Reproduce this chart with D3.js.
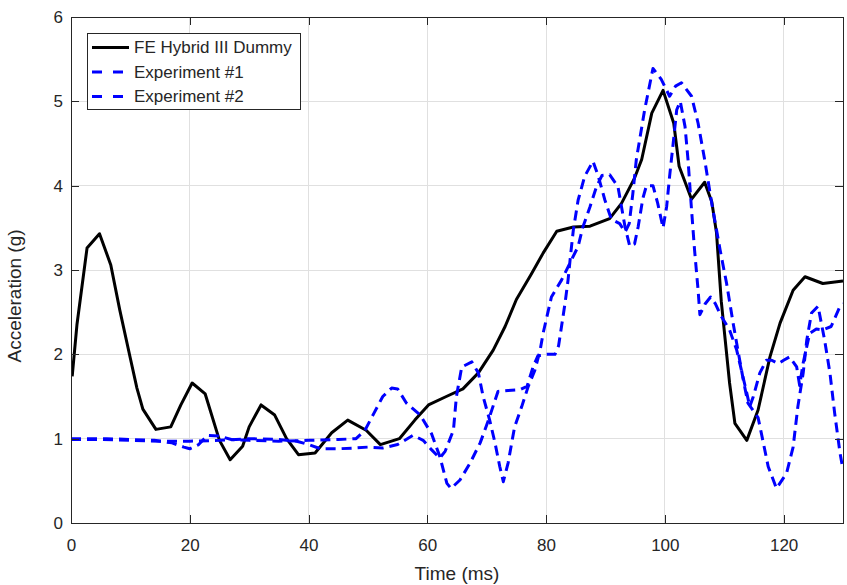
<!DOCTYPE html>
<html>
<head>
<meta charset="utf-8">
<script src="https://cdn.jsdelivr.net/npm/d3@7"></script>
<style>
  body { margin: 0; background: #fff; }
  text { font-family: 'Liberation Sans', Arial, sans-serif; fill: #262626; }
</style>
</head>
<body>
<div id="chart"></div>
<script>
// FE model (black solid)
const feTime = [0.2, 1.0, 2.7, 4.8, 6.7, 8.2, 10, 11.1, 12.1, 14.3,
  16.8, 18.5, 20.4, 22.6, 25, 26.8, 28.9, 30, 32, 34.3,
  36.3, 38.3, 41.1, 43.9, 46.6, 49.7, 52.1, 55.3, 57.9, 60.2,
  63.2, 66.0, 68.6, 71.1, 73.1, 75.0, 77.5, 79.5, 81.8, 84.6,
  87.4, 90.7, 92.7, 94.9, 96.1, 97.8, 99.7, 101.5, 102.4, 104.5,
  106.7, 107.9, 108.7, 109.5, 110.9, 111.8, 113.8, 115.7, 117.7, 119.4,
  121.6, 123.6, 126.6, 130]
const feAccel = [1.74, 2.35, 3.26, 3.43, 3.06, 2.53, 1.95, 1.6, 1.35, 1.11,
  1.14, 1.4, 1.66, 1.53, 0.98, 0.75, 0.91, 1.14, 1.40, 1.28,
  1.0, 0.81, 0.83, 1.07, 1.22, 1.10, 0.93, 1.0, 1.22, 1.40,
  1.50, 1.59, 1.78, 2.05, 2.33, 2.65, 2.95, 3.2, 3.46, 3.51,
  3.52, 3.61, 3.79, 4.09, 4.31, 4.86, 5.13, 4.74, 4.23, 3.84,
  4.04, 3.81, 3.44, 2.63, 1.66, 1.18, 0.98, 1.34, 1.97, 2.37,
  2.76, 2.92, 2.84, 2.87]

// Experiment #1 (blue dashed)
const exp1Time = [0, 3, 6, 10, 14, 17, 19, 20, 21.5, 23,
  25, 27, 30, 35, 40, 45, 48, 49.5, 51, 52.5,
  54, 55, 56.5, 58.8, 60.7, 62.1, 63.3, 64, 65.5, 67.2,
  68.9, 70.3, 71.9, 73.6, 75.6, 76.8, 77.8, 78.6, 80, 81.5,
  82.1, 82.6, 83.2, 83.7, 84.1, 84.6, 85.4, 86.5, 87.9, 88.8,
  89.9, 91, 92.4, 93.3, 94.0, 94.6, 95.2, 96.6, 98, 99.4,
  100.8, 101.8, 102.8, 104.5, 105.6, 106.7, 107.9, 109.3, 110.4, 111.5,
  112.3, 113.2, 114, 115.7, 116.5, 117.4, 118.8, 120.5, 121.6, 122.4,
  123.3, 123.9, 124.7, 125.8, 126.9, 127.8, 128.6, 129.5, 130]
const exp1Accel = [1.0, 1.0, 1.0, 0.99, 0.98, 0.95, 0.9, 0.88, 0.93, 1.04,
  1.03, 0.99, 0.98, 0.97, 0.98, 0.99, 1.0, 1.1, 1.3, 1.5,
  1.6, 1.59, 1.42, 1.28, 1.06, 0.79, 0.47, 0.41, 0.51, 0.71,
  0.95, 1.22, 1.56, 1.57, 1.58, 1.62, 1.85, 1.98, 2.0, 2.0,
  2.1, 2.33, 2.61, 2.88, 3.16, 3.48, 3.83, 4.11, 4.29, 4.11,
  3.83, 3.6, 3.55, 3.45, 3.55, 3.9, 4.31, 4.9, 5.39, 5.26,
  5.06, 5.18, 5.22, 5.06, 4.74, 4.31, 3.79, 3.24, 2.84, 2.37,
  2.05, 1.70, 1.42, 1.25, 0.98, 0.67, 0.41, 0.59, 0.9, 1.38,
  1.78, 2.17, 2.49, 2.57, 2.17, 1.78, 1.30, 0.83, 0.63]

// Experiment #2 (blue dashed)
const exp2Time = [0, 5, 10, 15, 20, 25, 30, 35, 38, 40,
  42, 45, 48, 50, 52.5, 55, 57.6, 59.3, 60.7, 62.1,
  63, 64.4, 64.9, 65.8, 67.5, 68.6, 69.4, 70.5, 71.4, 72.2,
  72.8, 73.6, 74.7, 75.9, 77, 78.1, 79, 79.5, 80.9, 82.6,
  84, 85.4, 86.2, 87.4, 88.5, 89.4, 90.7, 92.1, 92.7, 93.3,
  94.1, 94.9, 95.5, 96.3, 96.9, 98, 98.8, 99.7, 100.3, 100.8,
  101.4, 102, 102.6, 103.4, 103.9, 104.5, 105, 105.6, 105.9, 106.8,
  107.7, 108.5, 109.5, 110.9, 112.1, 112.9, 113.8, 114.3, 114.9, 116,
  117.1, 118, 119.1, 120, 121, 122.2, 122.7, 123.3, 124.4, 125.5,
  126.6, 128, 129.5, 130]
const exp2Accel = [0.99, 0.99, 0.98, 0.97, 0.97, 0.98, 1.0, 0.99, 0.97, 0.93,
  0.88, 0.88, 0.89, 0.9, 0.89, 0.93, 1.04, 0.98, 0.87, 0.77,
  0.85, 1.10, 1.5, 1.85, 1.91, 1.78, 1.5, 1.22, 0.95, 0.67,
  0.49, 0.71, 1.14, 1.38, 1.62, 1.81, 2.05, 2.25, 2.68, 2.88,
  3.08, 3.28, 3.51, 3.75, 3.99, 4.12, 4.13, 3.99, 3.75, 3.51,
  3.28, 3.31, 3.51, 3.85, 4.0, 4.0, 3.79, 3.5, 3.75, 4.11,
  4.5, 4.9, 5.0, 4.7, 4.31, 3.71, 3.24, 2.76, 2.47, 2.6,
  2.68, 2.6, 2.45, 2.29, 2.05, 1.81, 1.54, 1.38, 1.5, 1.78,
  1.93, 1.93, 1.89, 1.93, 1.97, 1.85, 1.63, 1.9, 2.25, 2.3,
  2.29, 2.33, 2.57, 2.6]

const xTicks = [0, 20, 40, 60, 80, 100, 120]
const yTicks = [0, 1, 2, 3, 4, 5, 6]
const legendLabels = ['FE Hybrid III Dummy', 'Experiment #1', 'Experiment #2']

const margin = { top: 17, left: 71, right: 4, bottom: 62 }
const width = 847 - margin.left - margin.right
const height = 585 - margin.top - margin.bottom

const svg = d3
  .select('#chart')
  .append('svg')
  .attr('width', width + margin.left + margin.right)
  .attr('height', height + margin.top + margin.bottom)
  .append('g')
  .attr('transform', 'translate(' + margin.left + ',' + margin.top + ')')

const x = d3.scaleLinear().domain([0, 130]).range([0, width])
const y = d3.scaleLinear().domain([0, 6]).range([height, 0])

// grid
svg.append('g')
  .selectAll('line')
  .data(xTicks.slice(1))
  .enter()
  .append('line')
  .attr('x1', d => x(d)).attr('x2', d => x(d))
  .attr('y1', 0).attr('y2', height)
  .attr('stroke', '#e0e0e0')
  .attr('shape-rendering', 'crispEdges')

svg.append('g')
  .selectAll('line')
  .data(yTicks.slice(1, -1))
  .enter()
  .append('line')
  .attr('x1', 0).attr('x2', width)
  .attr('y1', d => y(d)).attr('y2', d => y(d))
  .attr('stroke', '#e0e0e0')
  .attr('shape-rendering', 'crispEdges')

// series
svg.append('clipPath').attr('id', 'clip')
  .append('rect').attr('width', width).attr('height', height)

const line = d3.line().x(d => x(d[0])).y(d => y(d[1]))
const series = [
  { t: feTime, v: feAccel, color: '#000', dash: null },
  { t: exp1Time, v: exp1Accel, color: '#0000ff', dash: '10,6' },
  { t: exp2Time, v: exp2Accel, color: '#0000ff', dash: '10,6' }
]

svg.append('g')
  .attr('clip-path', 'url(#clip)')
  .selectAll('path')
  .data(series)
  .enter()
  .append('path')
  .attr('d', d => line(d3.zip(d.t, d.v)))
  .attr('fill', 'none')
  .attr('stroke', d => d.color)
  .attr('stroke-width', 3)
  .attr('stroke-dasharray', d => d.dash)
  .attr('stroke-linejoin', 'round')

// axes (ticks inward, box on)
const styleAxis = g => {
  g.select('.domain').attr('stroke', '#262626').attr('shape-rendering', 'crispEdges')
  g.selectAll('.tick line').attr('stroke', '#262626').attr('shape-rendering', 'crispEdges')
  g.selectAll('text').attr('font-size', 17).attr('fill', '#262626')
    .attr('font-family', "'Liberation Sans', Arial, sans-serif")
}

svg.append('g')
  .attr('transform', 'translate(0,' + height + ')')
  .call(d3.axisBottom(x).tickValues(xTicks).tickSize(-8).tickSizeOuter(0).tickPadding(16).tickFormat(d3.format('d')))
  .call(styleAxis)

svg.append('g')
  .call(d3.axisTop(x).tickValues(xTicks).tickSize(-8).tickSizeOuter(0).tickFormat(''))
  .call(styleAxis)

svg.append('g')
  .call(d3.axisLeft(y).tickValues(yTicks).tickSize(-8).tickSizeOuter(0).tickPadding(8).tickFormat(d3.format('d')))
  .call(styleAxis)

svg.append('g')
  .attr('transform', 'translate(' + width + ',0)')
  .call(d3.axisRight(y).tickValues(yTicks).tickSize(-8).tickSizeOuter(0).tickFormat(''))
  .call(styleAxis)

// axis labels
svg.append('text')
  .attr('x', width / 2)
  .attr('y', height + 57)
  .attr('text-anchor', 'middle')
  .attr('font-size', 19)
  .text('Time (ms)')

svg.append('text')
  .attr('transform', 'translate(' + -50 + ',' + (height / 2 + 26) + ') rotate(-90)')
  .attr('text-anchor', 'middle')
  .attr('font-size', 19)
  .text('Acceleration (g)')

// legend
const legend = svg.append('g').attr('transform', 'translate(16,16)')
legend.append('rect')
  .attr('width', 213).attr('height', 76)
  .attr('fill', '#fff').attr('stroke', '#262626')
  .attr('shape-rendering', 'crispEdges')

const items = legend.selectAll('.item')
  .data(legendLabels)
  .enter()
  .append('g')
  .attr('transform', (d, i) => 'translate(0,' + (14.5 + i * 24.5) + ')')

items.append('line')
  .attr('x1', 5).attr('x2', 42)
  .attr('stroke', (d, i) => series[i].color)
  .attr('stroke-width', 3)
  .attr('stroke-dasharray', (d, i) => (series[i].dash ? '10,11' : null))

items.append('text')
  .attr('x', 47)
  .attr('dy', '0.35em')
  .attr('font-size', 17)
  .text(d => d)
</script>
</body>
</html>
